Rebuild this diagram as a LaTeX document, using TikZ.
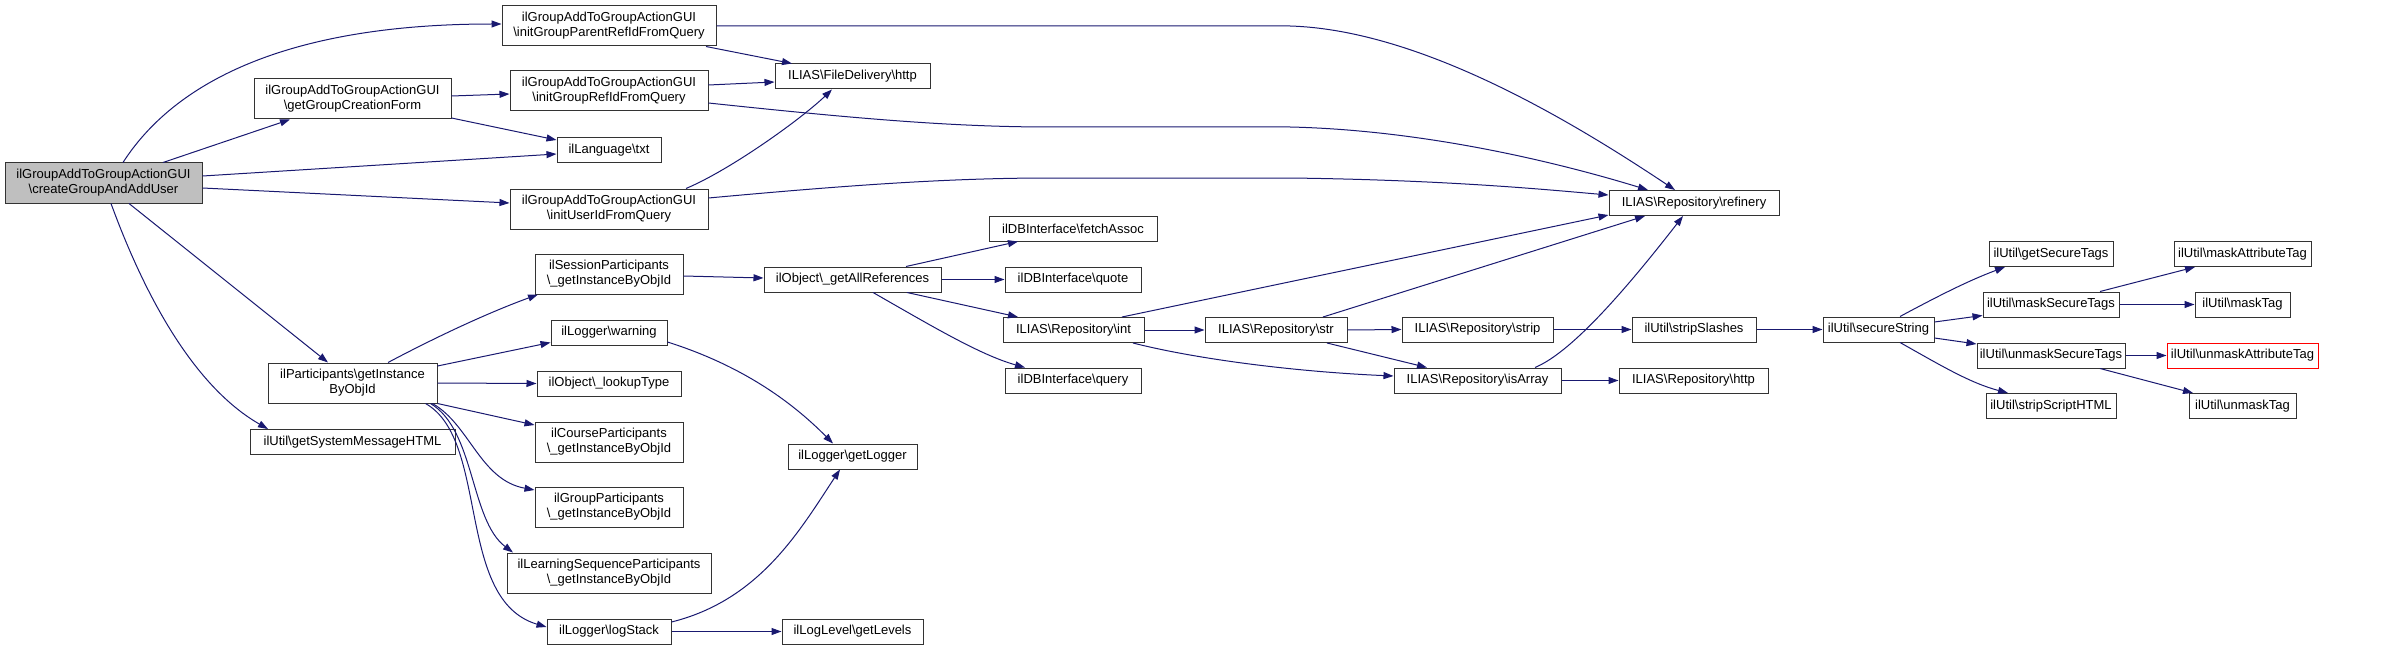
\documentclass[tikz,border=0pt]{standalone}
\usepackage{fontspec}
\setmainfont{Liberation Sans}
\usepackage{tikz}
\usetikzlibrary{arrows.meta}
\definecolor{edgeblue}{HTML}{191970}
\definecolor{rootgray}{HTML}{BFBFBF}
\newcommand{\bsl}{\textbackslash}

\begin{document}
\begin{tikzpicture}[x=1pt, y=-1pt,
    font=\fontsize{13}{15}\selectfont,
    fn/.style={draw=black!80, line width=1pt, fill=white, align=center, inner sep=2pt},
    one/.style={fn, minimum height=25pt},
    two/.style={fn, minimum height=40pt},
    call/.style={draw=edgeblue, line width=1pt, -{Triangle[length=10pt, width=7pt]}}]
    \useasboundingbox (0,0) rectangle (2391,650);

    % first level
    \node[two, fill=rootgray, minimum width=197pt] (root) at (103.5,183) {ilGroupAddToGroupActionGUI\\\bsl createGroupAndAddUser};
    \node[two, minimum width=197pt] (gcf) at (352.5,99) {ilGroupAddToGroupActionGUI\\\bsl getGroupCreationForm};
    \node[two, minimum width=169pt] (part) at (352.5,383) {ilParticipants\bsl getInstance\\ByObjId};
    \node[one, minimum width=205pt] (sysmsg) at (352.5,442) {ilUtil\bsl getSystemMessageHTML};

    % second level
    \node[two, minimum width=214pt] (igp) at (609,26) {ilGroupAddToGroupActionGUI\\\bsl initGroupParentRefIdFromQuery};
    \node[two, minimum width=198pt] (igr) at (609,91) {ilGroupAddToGroupActionGUI\\\bsl initGroupRefIdFromQuery};
    \node[one, minimum width=104pt] (txt) at (609,150) {ilLanguage\bsl txt};
    \node[two, minimum width=198pt] (iuq) at (609,209) {ilGroupAddToGroupActionGUI\\\bsl initUserIdFromQuery};
    \node[two, minimum width=148pt] (sess) at (609,274) {ilSessionParticipants\\\bsl\_getInstanceByObjId};
    \node[one, minimum width=116pt] (warn) at (609,332.5) {ilLogger\bsl warning};
    \node[one, minimum width=144pt] (lookup) at (609,383.5) {ilObject\bsl\_lookupType};
    \node[two, minimum width=148pt] (course) at (609,442) {ilCourseParticipants\\\bsl\_getInstanceByObjId};
    \node[two, minimum width=148pt] (grpp) at (609,507) {ilGroupParticipants\\\bsl\_getInstanceByObjId};
    \node[two, minimum width=204pt] (lsp) at (609,573) {ilLearningSequenceParticipants\\\bsl\_getInstanceByObjId};
    \node[one, minimum width=124pt] (logstack) at (609,631.5) {ilLogger\bsl logStack};

    % third level
    \node[one, minimum width=155pt] (fdh) at (852.5,76.5) {ILIAS\bsl FileDelivery\bsl http};
    \node[one, minimum width=177pt] (gar) at (852.5,279.5) {ilObject\bsl\_getAllReferences};
    \node[one, minimum width=129pt] (getlogger) at (852.5,456.5) {ilLogger\bsl getLogger};
    \node[one, minimum width=141pt] (levels) at (852.5,631.5) {ilLogLevel\bsl getLevels};

    % database and repository
    \node[one, minimum width=168pt] (fetch) at (1073,228.5) {ilDBInterface\bsl fetchAssoc};
    \node[one, minimum width=136pt] (quote) at (1073,279.5) {ilDBInterface\bsl quote};
    \node[one, minimum width=141pt] (int) at (1073.5,330) {ILIAS\bsl Repository\bsl int};
    \node[one, minimum width=136pt] (query) at (1073,380.5) {ilDBInterface\bsl query};
    \node[one, minimum width=142pt] (str) at (1276,330) {ILIAS\bsl Repository\bsl str};
    \node[one, minimum width=151pt] (strip) at (1477.5,329.5) {ILIAS\bsl Repository\bsl strip};
    \node[one, minimum width=167pt] (isarray) at (1477.5,380.5) {ILIAS\bsl Repository\bsl isArray};
    \node[one, minimum width=170pt] (refinery) at (1694,203) {ILIAS\bsl Repository\bsl refinery};
    \node[one, minimum width=124pt] (slashes) at (1694,329.5) {ilUtil\bsl stripSlashes};
    \node[one, minimum width=149pt] (rhttp) at (1693.5,380.5) {ILIAS\bsl Repository\bsl http};

    % ilUtil
    \node[one, minimum width=111pt] (secure) at (1878.5,329.5) {ilUtil\bsl secureString};
    \node[one, minimum width=124pt] (gst) at (2051,254) {ilUtil\bsl getSecureTags};
    \node[one, minimum width=136pt] (mst) at (2051,304.5) {ilUtil\bsl maskSecureTags};
    \node[one, minimum width=148pt] (ust) at (2051,355.5) {ilUtil\bsl unmaskSecureTags};
    \node[one, minimum width=130pt] (ssh) at (2051,406) {ilUtil\bsl stripScriptHTML};
    \node[one, minimum width=137pt] (mat) at (2242.5,254) {ilUtil\bsl maskAttributeTag};
    \node[one, minimum width=95pt] (mtag) at (2242.5,304.5) {ilUtil\bsl maskTag};
    \node[one, draw=red, minimum width=151pt] (uat) at (2242.5,355.5) {ilUtil\bsl unmaskAttributeTag};
    \node[one, minimum width=107pt] (utag) at (2242.5,406) {ilUtil\bsl unmaskTag};

    % calls from the root
    \draw[call] ([xshift=19.5pt]root.north) .. controls (160,105) and (250,24) .. ([yshift=2pt]igp.west);
    \draw[call] ([xshift=59.5pt]root.north) -- ([xshift=-62.5pt]gcf.south);
    \draw[call] ([yshift=7pt]root.east) -- ([yshift=-4pt]txt.west);
    \draw[call] ([yshift=-5pt]root.east) -- ([yshift=6pt]iuq.west);
    \draw[call] ([xshift=25.5pt]root.south) -- ([xshift=-24.5pt]part.north);
    \draw[call] ([xshift=7.5pt]root.south) .. controls (150,310) and (200,390) .. ([xshift=-84.5pt]sysmsg.north);
    \draw[call] ([yshift=3pt]gcf.east) -- ([yshift=-3pt]igr.west);
    \draw[call] ([yshift=-19pt]gcf.east) -- ([yshift=10pt]txt.west);

    % query helpers
    \draw[call] ([xshift=97pt]igp.south) -- ([xshift=-60.5pt]fdh.north);
    \draw[call] (igp.east) -- (1290,26) .. controls (1420,30) and (1570,120) .. ([xshift=-19pt]refinery.north);
    \draw[call] ([yshift=6pt]igr.east) -- ([yshift=-5.5pt]fdh.west);
    \draw[call] ([yshift=-12pt]igr.east) .. controls (850,118) and (950,127) .. (1050,127) -- (1290,127) .. controls (1420,130) and (1550,160) .. ([xshift=-46pt]refinery.north);
    \draw[call] ([xshift=77pt]iuq.north) .. controls (730,170) and (800,120) .. ([xshift=-20.5pt]fdh.south);
    \draw[call] ([yshift=11pt]iuq.east) .. controls (850,185) and (950,178) .. (1050,178) -- (1290,178) .. controls (1450,180) and (1550,190) .. ([yshift=8pt]refinery.west);

    % participants
    \draw[call] ([xshift=35.5pt]part.north) .. controls (440,335) and (490,312) .. ([xshift=-71pt]sess.south);
    \draw[call] ([yshift=17pt]part.east) -- ([yshift=-10pt]warn.west);
    \draw[call] (part.east) -- (lookup.west);
    \draw[call] (part.south east) -- ([yshift=17pt]course.west);
    \draw[call] ([xshift=80pt]part.south) .. controls (470,425) and (480,480) .. ([yshift=17pt]grpp.west);
    \draw[call] ([xshift=78pt]part.south) .. controls (475,430) and (470,520) .. ([xshift=-96pt]lsp.north);
    \draw[call] ([xshift=73pt]part.south) .. controls (490,440) and (455,600) .. ([yshift=4.5pt]logstack.west);
    \draw[call] ([yshift=-2pt]sess.east) -- ([yshift=1.5pt]gar.west);
    \draw[call] ([yshift=-9.5pt]warn.east) .. controls (740,365) and (790,400) .. ([xshift=-19.5pt]getlogger.north);
    \draw[call] ([yshift=9.5pt]logstack.east) .. controls (760,600) and (800,530) .. ([xshift=-12.5pt]getlogger.south);
    \draw[call] (logstack.east) -- (levels.west);

    % references
    \draw[call] ([xshift=53.5pt]gar.north) -- ([xshift=-55pt]fetch.south);
    \draw[call] (gar.east) -- (quote.west);
    \draw[call] ([xshift=54.5pt]gar.south) -- ([xshift=-55.5pt]int.north);
    \draw[call] ([xshift=20.5pt]gar.south) .. controls (930,325) and (980,355) .. ([xshift=-48pt]query.north);
    \draw[call] ([xshift=48.5pt]int.north) -- ([yshift=-12pt]refinery.west);
    \draw[call] (int.east) -- (str.west);
    \draw[call] ([xshift=59.5pt]int.south) .. controls (1200,360) and (1300,372) .. ([yshift=4.5pt]isarray.west);
    \draw[call] ([xshift=47pt]str.north) -- ([xshift=-49pt]refinery.south);
    \draw[call] (str.east) -- (strip.west);
    \draw[call] ([xshift=51pt]str.south) -- ([xshift=-50.5pt]isarray.north);
    \draw[call] ([xshift=57.5pt]isarray.north) .. controls (1565,355) and (1610,310) .. ([xshift=-11pt]refinery.south);
    \draw[call] (isarray.east) -- (rhttp.west);
    \draw[call] (strip.east) -- (slashes.west);
    \draw[call] (slashes.east) -- (secure.west);

    % secure string
    \draw[call] ([xshift=21.5pt]secure.north) .. controls (1940,295) and (1970,280) .. ([xshift=-46pt]gst.south);
    \draw[call] ([yshift=7.5pt]secure.east) -- ([yshift=-11pt]mst.west);
    \draw[call] ([yshift=-8.5pt]secure.east) -- ([yshift=11.5pt]ust.west);
    \draw[call] ([xshift=21.5pt]secure.south) .. controls (1940,365) and (1970,383) .. ([xshift=-43pt]ssh.north);
    \draw[call] ([xshift=49pt]mst.north) -- ([xshift=-47.5pt]mat.south);
    \draw[call] (mst.east) -- (mtag.west);
    \draw[call] (ust.east) -- (uat.west);
    \draw[call] ([xshift=49pt]ust.south) -- ([xshift=-49.5pt]utag.north);
\end{tikzpicture}
\end{document}
